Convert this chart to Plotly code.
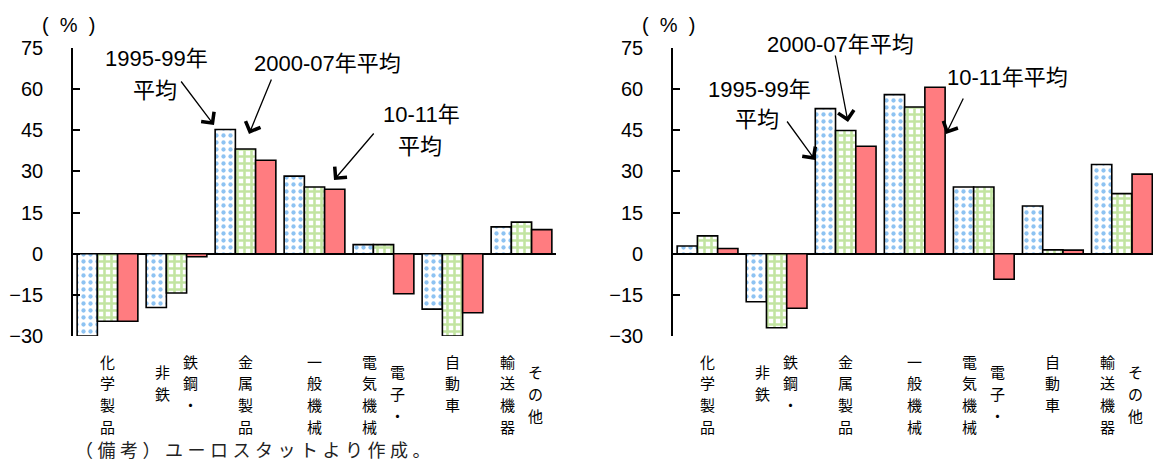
import plotly.graph_objects as go

# ---------------- data ----------------
categories = ["化学製品", "鉄鋼・非鉄", "金属製品", "一般機械", "電子・電気機械", "自動車", "その他輸送機器"]
# vertical label columns, right-to-left order
label_columns = [["化学製品"], ["鉄鋼・", "非鉄"], ["金属製品"], ["一般機械"],
                 ["電子・", "電気機械"], ["自動車"], ["その他", "輸送機器"]]
series_names = ["1995-99年平均", "2000-07年平均", "10-11年平均"]

left_1995 = [-30.0, -19.6, 45.3, 28.3, 3.3, -20.2, 9.8]
left_2000 = [-24.6, -14.3, 38.2, 24.3, 3.3, -30.0, 11.5]
left_2010 = [-24.6, -1.1, 34.1, 23.5, -14.6, -21.5, 8.8]

right_1995 = [2.8, -17.5, 52.9, 58.0, 24.3, 17.4, 32.5]
right_2000 = [6.5, -27.0, 44.9, 53.5, 24.3, 1.4, 21.9]
right_2010 = [1.9, -19.9, 39.2, 60.7, -9.3, 1.3, 29.0]

y_ticks = [-30, -15, 0, 15, 30, 45, 60, 75]
unit_label = "(\u00a0\u00a0%\u00a0\u00a0)"
note_text = "（備考）ユーロスタットより作成。"

# ---------------- layout helpers ----------------
W, H = 1153, 465
PLOT_TOP, PLOT_BOT = 48, 336


def px_x(x):
    return x / W


def px_y(y):
    return (PLOT_BOT - y) / (PLOT_BOT - PLOT_TOP)


FONT = "Liberation Sans, Arial, Noto Sans CJK JP, sans-serif"
CJK = "Noto Sans CJK JP, sans-serif"

styles = [
    dict(color="white", pattern=dict(shape=".", fgcolor="#1E88E5", bgcolor="white", size=7, solidity=0.3),
         line=dict(color="black", width=1.6)),
    dict(color="white", pattern=dict(shape="+", fgcolor="#86C943", bgcolor="white", size=7, solidity=0.6),
         line=dict(color="black", width=1.6)),
    dict(color="#FF7C80", line=dict(color="black", width=1.6)),
]

fig = go.Figure()
for vals, name, st in zip([left_1995, left_2000, left_2010], series_names, styles):
    fig.add_trace(go.Bar(x=categories, y=vals, name=name, marker=st, xaxis="x", yaxis="y",
                         showlegend=False))
for vals, name, st in zip([right_1995, right_2000, right_2010], series_names, styles):
    fig.add_trace(go.Bar(x=categories, y=vals, name=name, marker=st, xaxis="x2", yaxis="y2",
                         showlegend=False))

yax = dict(range=[-30, 75], tickvals=y_ticks, showgrid=False, zeroline=True, zerolinecolor="black",
           zerolinewidth=2, showline=True, linecolor="black", linewidth=1.6, ticks="inside",
           ticklen=7, tickwidth=1.6, tickcolor="black", tickfont=dict(size=20, color="black", family=FONT),
           ticklabelstandoff=24, fixedrange=True)
xax = dict(showgrid=False, zeroline=False, showline=False, showticklabels=False, ticks="",
           type="category", categoryorder="array", categoryarray=categories, fixedrange=True)

fig.update_layout(
    width=W, height=H,
    margin=dict(l=0, r=0, t=PLOT_TOP, b=H - PLOT_BOT),
    paper_bgcolor="white", plot_bgcolor="white",
    barmode="group", bargap=0.12, bargroupgap=0,
    font=dict(family=FONT, color="black"),
    xaxis=dict(xax, domain=[px_x(73), px_x(556)], range=[-0.5, 6.5], anchor="y"),
    yaxis=dict(yax, domain=[0, 1], anchor="x"),
    xaxis2=dict(xax, domain=[px_x(673), 1.0], range=[-0.5, 6.45], anchor="y2"),
    yaxis2=dict(yax, domain=[0, 1], anchor="x2"),
)

ann = []
# category labels (vertical text, one character per annotation)
CH_SIZE = 15
PITCH = 21.8
FIRST_CENTER = 361
for xref in ["x", "x2"]:
    for cat, cols in zip(categories, label_columns):
        maxlen = max(len(c) for c in cols)
        n = len(cols)
        for k, col in enumerate(cols):
            shift = 0 if n == 1 else (14 if k == 0 else -14)
            c0 = FIRST_CENTER + (maxlen - len(col)) * PITCH / 2
            for i, ch in enumerate(col):
                ann.append(dict(xref=xref, yref="paper", x=cat, y=px_y(c0 + i * PITCH), xshift=shift,
                                text=ch, showarrow=False, xanchor="center", yanchor="middle",
                                borderpad=0, font=dict(family=CJK, size=CH_SIZE, color="black")))

# unit labels
for x in [68, 668]:
    ann.append(dict(xref="paper", yref="paper", x=px_x(x), y=px_y(25), text=unit_label,
                    showarrow=False, xanchor="center", yanchor="middle",
                    font=dict(size=20, family=FONT)))

# series callout texts: (text, center x, center y)
texts = [
    ("1995-99年", 157, 58), ("平均", 155, 90),
    ("2000-07年平均", 327, 63),
    ("10-11年", 421, 115), ("平均", 420, 146),
    ("2000-07年平均", 840, 44),
    ("1995-99年", 759, 89), ("平均", 757, 119),
    ("10-11年平均", 1007, 77),
]
for t, x, y in texts:
    ann.append(dict(xref="paper", yref="paper", x=px_x(x), y=px_y(y), text=t, showarrow=False,
                    xanchor="center", yanchor="middle", font=dict(size=22, family=FONT)))

# arrows: (tail x, tail y, tip x, tip y)
arrows = [
    (180, 80, 214, 125),
    (272, 78, 249, 134),
    (375, 132, 334, 180),
    (835, 54, 848, 122),
    (786, 120, 815, 160),
    (964, 97, 946, 134),
]
for tx, ty, hx, hy in arrows:
    ann.append(dict(xref="paper", yref="paper", x=px_x(hx), y=px_y(hy), ax=tx - hx, ay=ty - hy,
                    axref="pixel", ayref="pixel", text="", showarrow=True, arrowhead=4,
                    arrowsize=2.4, arrowwidth=1.3, arrowcolor="black", standoff=0))

# note
ann.append(dict(xref="paper", yref="paper", x=px_x(74), y=px_y(463), text="\u2005".join(note_text),
                showarrow=False, xanchor="left", yanchor="bottom", borderpad=0,
                font=dict(size=18, family=CJK, color="#222222")))

fig.update_layout(annotations=ann)

fig.write_html("out.html", config={"displayModeBar": False},
               post_script="document.body.style.margin='0';document.body.style.overflow='hidden';")
